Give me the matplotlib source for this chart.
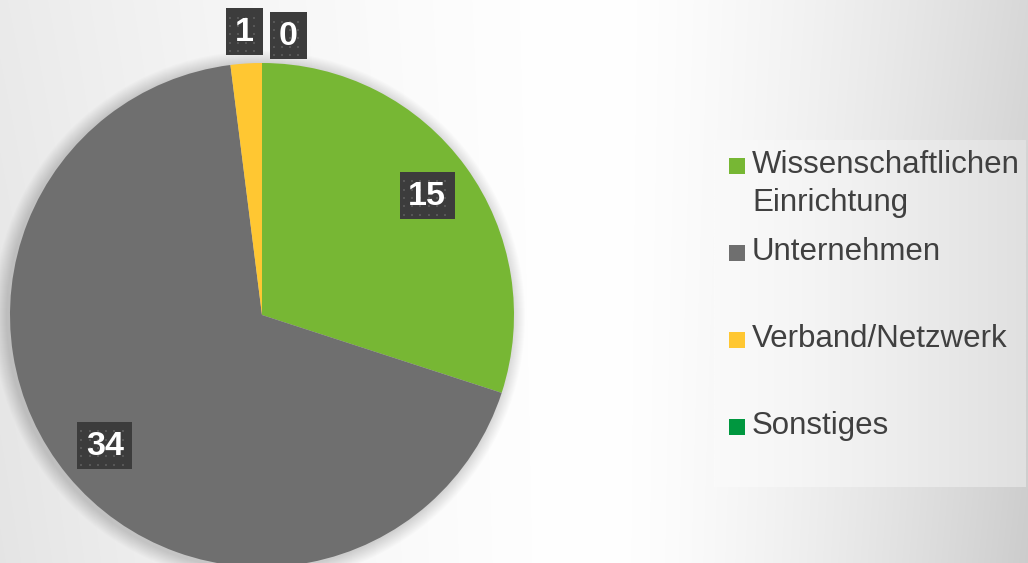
import numpy as np
import matplotlib
matplotlib.use("Agg")
import matplotlib.pyplot as plt
from matplotlib.patches import Rectangle, Circle
import textwrap

categories = ["Wissenschaftlichen Einrichtung", "Unternehmen", "Verband/Netzwerk", "Sonstiges"]
values = [15, 34, 1, 0]
colors = ["#77B734", "#6F6F6F", "#FFC732", "#00973F"]

W, H = 1028, 563
fig = plt.figure(figsize=(W / 100, H / 100), dpi=100)
ax = fig.add_axes([0, 0, 1, 1])
ax.set_xlim(0, W)
ax.set_ylim(0, H)
ax.set_aspect("equal")
ax.axis("off")

# background gradient (pixel coords, y up)
xx, yy = np.meshgrid(np.arange(W) + 0.5, np.arange(H) + 0.5)
cx = 600.0
dxn = np.where(xx < cx, (cx - xx) / 600.0, (xx - cx) / 428.0)
c = np.where(xx < cx, 24.0, 46.0)
yt = (H - yy) / H  # 0 top, 1 bottom
dark = c * dxn ** 1.5 * (0.85 + 0.25 * yt)
bg = np.clip(255 - dark, 0, 255) / 255.0
ax.imshow(np.dstack([bg, bg, bg]), extent=(0, W, 0, H), origin="lower", zorder=0)

# legend panel gradient
lx0, lx1, ly0, ly1 = 714, 1026, H - 487, H - 140
gx = np.linspace(0, 1, 200)
panel = (250 - 26 * gx ** 1.3) / 255.0
panel = np.tile(panel, (50, 1))
ax.imshow(np.dstack([panel, panel, panel]), extent=(lx0, lx1, ly0, ly1),
          origin="lower", zorder=1, aspect="auto")

# pie
pcx, pcy, R = 262, H - 315, 252
for i in range(14):
    ax.add_patch(Circle((pcx - 3, pcy - 2), R + 14 - i, color="black",
                        alpha=0.012, lw=0, zorder=2))
wedges, _ = ax.pie(values, colors=colors, startangle=90, counterclock=False,
                   center=(pcx, pcy), radius=R, frame=True,
                   wedgeprops=dict(linewidth=0, zorder=3))
ax.set_xlim(0, W)
ax.set_ylim(0, H)
ax.axis("off")


def label_box(x, y, s):
    bw = 18 * len(s) + 19
    bh = 47
    x0, y0 = x - bw / 2, y - bh / 2
    ax.add_patch(Rectangle((x0, y0), bw, bh, facecolor="#3C3C3C", lw=0, zorder=5))
    gxs = np.arange(x0 + 4, x0 + bw - 2, 8.3)
    gys = np.arange(y0 + 4, y0 + bh - 2, 8.3)
    px, py = np.meshgrid(gxs, gys)
    ax.scatter(px.ravel(), py.ravel(), s=3.2, marker="s", color="#575757",
               linewidths=0, zorder=6)
    ax.text(x, y - 1, s, ha="center", va="center", color="white",
            fontsize=24.5, fontweight="bold", family="Liberation Sans", zorder=7)


total = sum(values)
small_offsets = {2: -18, 3: 26}
for i, (w, v) in enumerate(zip(wedges, values)):
    ang = np.deg2rad((w.theta1 + w.theta2) / 2)
    if v / total > 0.05:
        x = pcx + 0.81 * R * np.cos(ang)
        y = pcy + 0.81 * R * np.sin(ang)
    else:
        x = pcx + small_offsets[i]
        y = pcy + 1.125 * R - (4 if i == 3 else 0)
    label_box(x, y, str(v))

# legend
rows_y = [H - 166, H - 253, H - 340, H - 427]
for cat, col, ry in zip(categories, colors, rows_y):
    ax.add_patch(Rectangle((729, ry - 8), 16, 16, facecolor=col, lw=0, zorder=4))
    lines = textwrap.wrap(cat, 18)
    for k, ln in enumerate(lines):
        ax.text(752, ry - k * 38 + 1, ln, ha="left", va="center", color="#404040",
                fontsize=22.5, family="Liberation Sans", zorder=4)

fig.savefig("out.png", dpi=100)
